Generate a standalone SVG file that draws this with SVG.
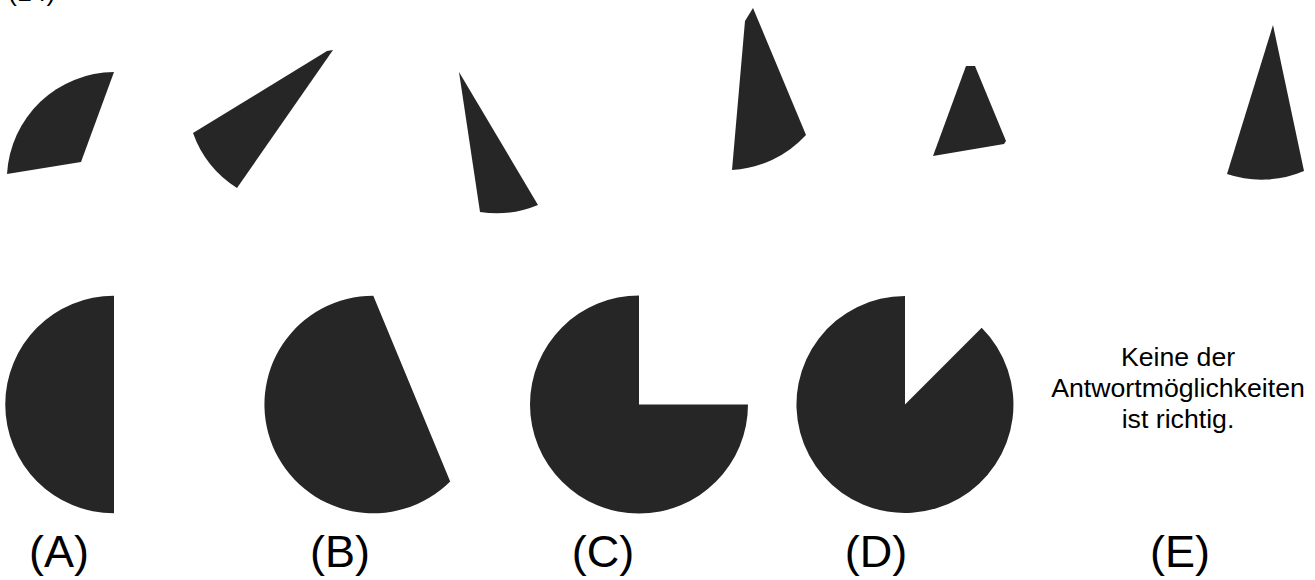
<svg xmlns="http://www.w3.org/2000/svg" width="1315" height="580" viewBox="0 0 1315 580">
<style>
.p{fill:#262626;stroke:none}
.lbl{font-family:"Liberation Sans",Arial,sans-serif;font-size:45px;fill:#000;text-anchor:middle}
.e{font-family:"Liberation Sans",Arial,sans-serif;font-size:26.7px;fill:#000;text-anchor:middle}
</style>
<rect width="1315" height="580" fill="#fff"/>
<text x="8" y="1" font-family="Liberation Sans, Arial, sans-serif" font-size="26.7" fill="#000">(14)</text>
<g id="pieces">
<g id="piece1"><path class="p" d="M7,174 A108,108 0 0 1 114,72 L81,162 Z"/></g>
<g id="piece2"><path class="p" d="M193,133 L327,51 L333,50 L237,188 A108,108 0 0 1 193,133 Z"/></g>
<g id="piece3"><path class="p" d="M459,72 L538,205 A108,108 0 0 1 480,212 Z"/></g>
<g id="piece4"><path class="p" d="M745,21 L753,8 L806,135 A108,108 0 0 1 732,170 Z"/></g>
<g id="piece5"><path class="p" d="M966,66 L975,66 L1006,141 L1004,144 L933,156 Z"/></g>
<g id="piece6"><path class="p" d="M1273,25 L1304,171 A108,108 0 0 1 1227,174 Z"/></g>
</g>
<g id="optA"><path class="p" d="M114,295.7 A108.8,108.8 0 0 0 114,513.3 Z"/><text class="lbl" x="59" y="567">(A)</text></g>
<g id="optB"><path class="p" d="M373.3,295.7 A108.8,108.8 0 1 0 450.2,481.4 Z"/><text class="lbl" x="340" y="567">(B)</text></g>
<g id="optC"><path class="p" d="M639,404.5 L639,295.5 A109,109 0 1 0 748,404.5 Z"/><text class="lbl" x="603" y="567">(C)</text></g>
<g id="optD"><path class="p" d="M905,404.5 L905,296 A108.5,108.5 0 1 0 981.7,327.8 Z"/><text class="lbl" x="876" y="567">(D)</text></g>
<g id="optE"><text class="e" x="1178" y="366">Keine der</text><text class="e" x="1178" y="397">Antwortmöglichkeiten</text><text class="e" x="1178" y="428">ist richtig.</text><text class="lbl" x="1180" y="567">(E)</text></g>
<g id="connectors"/>
</svg>
